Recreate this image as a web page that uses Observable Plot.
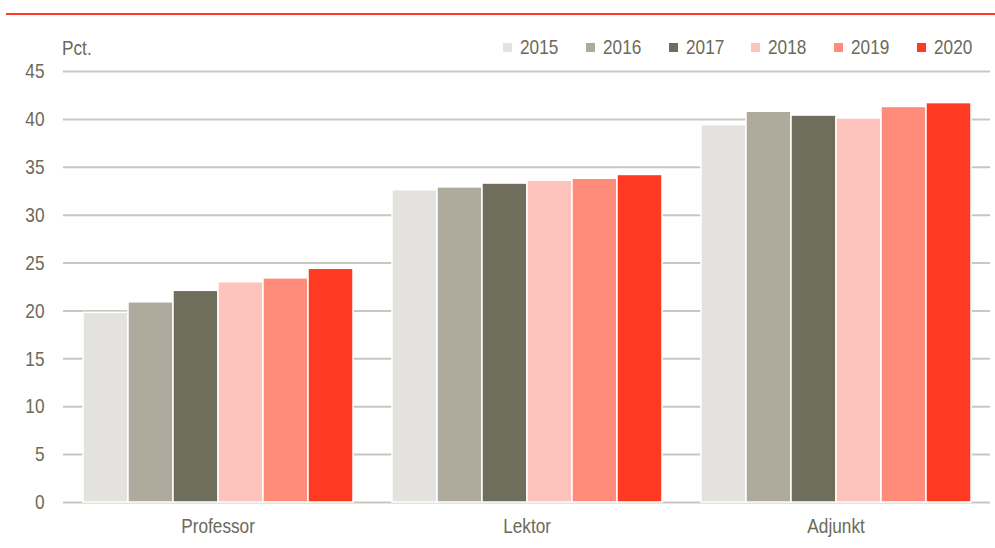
<!DOCTYPE html>
<html>
<head>
<meta charset="utf-8">
<script src="https://cdn.jsdelivr.net/npm/d3@7"></script>
<script src="https://cdn.jsdelivr.net/npm/@observablehq/plot@0.6"></script>
<style>
  body { margin: 0; background: #fff; }
  #wrap { position: relative; width: 995px; height: 548px; overflow: hidden;
          font-family: "Liberation Sans", Arial, sans-serif; color: #6b6a5a; }
  #rule { position: absolute; left: 6px; right: 0; top: 13px; height: 2px; background: #ff3a22; }
  #unit { position: absolute; left: 62px; top: 36px; font-size: 21px; line-height: 24px;
          transform: scaleX(0.82); transform-origin: left center; }
  #legend { position: absolute; left: 503px; top: 36px; display: flex; height: 22px; align-items: center; }
  .item { width: 82.8px; display: flex; align-items: center; font-size: 21px; line-height: 22px; }
  .sw { width: 9px; height: 9px; margin-right: 8px; flex: none; }
  .lt { display: inline-block; transform: scaleX(0.82); transform-origin: left center; }
  #chart { position: absolute; left: 0; top: 0; }
</style>
</head>
<body>
<div id="wrap">
  <div id="rule"></div>
  <div id="chart"></div>
  <div id="unit">Pct.</div>
  <div id="legend"></div>
</div>
<script>
const categories = ["Professor", "Lektor", "Adjunkt"];
const years = ["2015", "2016", "2017", "2018", "2019", "2020"];
const professor = [19.8, 20.9, 22.1, 23.0, 23.4, 24.4];
const lektor = [32.6, 32.9, 33.3, 33.6, 33.8, 34.2];
const adjunkt = [39.4, 40.8, 40.4, 40.1, 41.3, 41.7];
const colors = ["#e3e2de", "#aeab9c", "#6f6e5d", "#ffc3bd", "#ff8b7b", "#ff3a22"];
const yTicks = [0, 5, 10, 15, 20, 25, 30, 35, 40, 45];

const series = [professor, lektor, adjunkt];
const data = categories.flatMap((c, i) => years.map((y, j) => ({cat: c, year: y, value: series[i][j]})));

const chart = Plot.plot({
  width: 995,
  height: 548,
  marginTop: 71,
  marginBottom: 46,
  marginLeft: 62,
  marginRight: 5,
  style: { fontFamily: '"Liberation Sans", Arial, sans-serif', fontSize: "21px", color: "#6b6a5a", background: "transparent", overflow: "visible" },
  fx: { domain: categories, padding: 0, label: null, axis: "bottom", tickSize: 0, tickPadding: 16 },
  x: { domain: years, paddingInner: 0, paddingOuter: 0.42, axis: null },
  y: { domain: [0, 45], ticks: yTicks, tickSize: 0, tickPadding: 19, label: null },
  color: { domain: years, range: colors },
  marks: [
    Plot.ruleY(yTicks, { stroke: "#c9c8bf", strokeWidth: 2 }),
    Plot.barY(data, { fx: "cat", x: "year", y: "value", fill: "year", stroke: "white", strokeWidth: 1.5 })
  ]
});
document.getElementById("chart").appendChild(chart);

// condense axis text horizontally (narrow typeface look), keeping each text's anchor fixed
Array.from(chart.querySelectorAll("text")).forEach(t => {
  const g = document.createElementNS("http://www.w3.org/2000/svg", "g");
  const tr = t.getAttribute("transform");
  if (tr) { g.setAttribute("transform", tr); t.removeAttribute("transform"); }
  t.parentNode.insertBefore(g, t);
  g.appendChild(t);
  const anchor = getComputedStyle(t).textAnchor;
  const ox = anchor === "end" ? "100%" : anchor === "middle" ? "50%" : "0%";
  t.style.transformBox = "fill-box";
  t.style.transformOrigin = `${ox} 50%`;
  t.style.transform = "scaleX(0.82)";
});

const legend = document.getElementById("legend");
years.forEach((y, i) => {
  const it = document.createElement("div");
  it.className = "item";
  const sw = document.createElement("span");
  sw.className = "sw";
  sw.style.background = colors[i];
  const t = document.createElement("span");
  t.className = "lt";
  t.textContent = y;
  it.appendChild(sw);
  it.appendChild(t);
  legend.appendChild(it);
});
</script>
</body>
</html>
